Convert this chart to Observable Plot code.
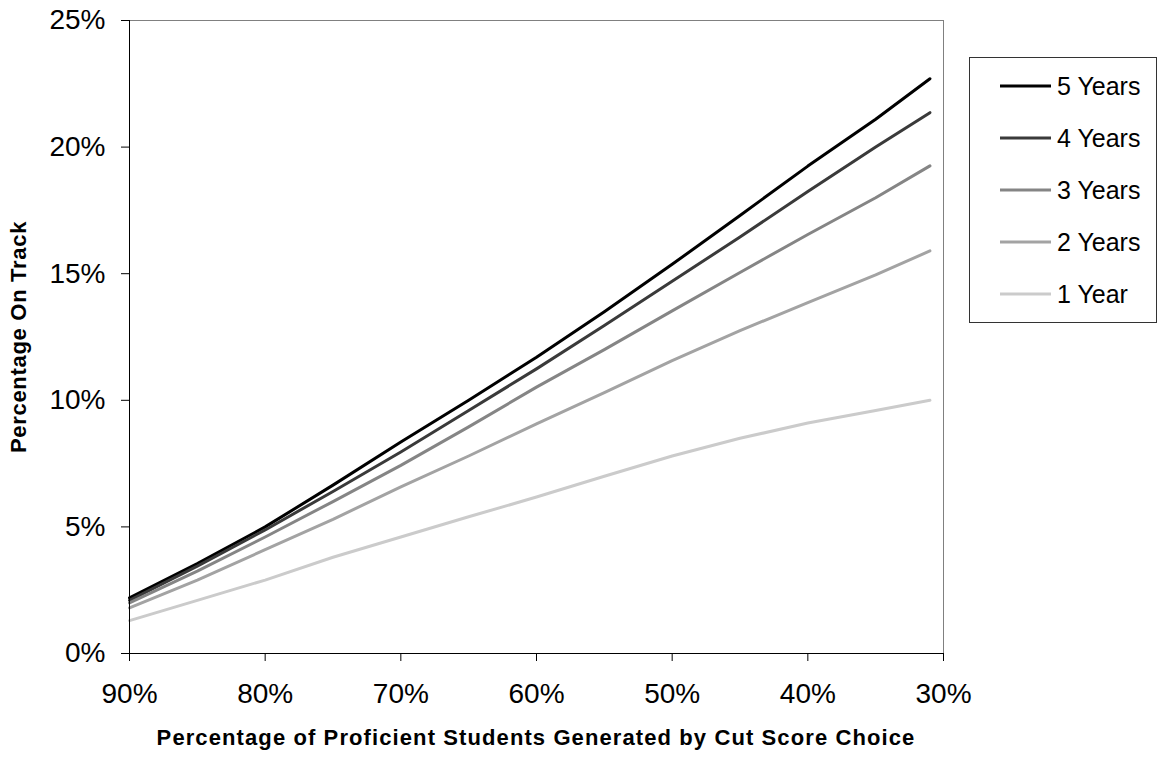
<!DOCTYPE html>
<html>
<head>
<meta charset="utf-8">
<script src="https://cdn.jsdelivr.net/npm/d3@7"></script>
<script src="https://cdn.jsdelivr.net/npm/@observablehq/plot@0.6"></script>
<style>
  body { margin: 0; background: #fff; }
  #wrap { position: relative; width: 1167px; height: 757px; font-family: "Liberation Sans", Arial, sans-serif; }
  #wrap svg { position: absolute; left: 0; top: 0; }
  .title { position: absolute; font-weight: bold; font-size: 22px; white-space: nowrap; color: #000; }
  #legend { position: absolute; left: 969px; top: 57px; width: 188px; height: 266px; border: 1px solid #333; box-sizing: border-box; background: #fff; }
</style>
</head>
<body>
<div id="wrap"></div>
<script>
// Cut score choice: percentage of proficient students (x)
const cutScores = [90, 85, 80, 75, 70, 65, 60, 55, 50, 45, 40, 35, 31];
// Percentage on track (y) per series
const years5 = [2.2, 3.55, 5.0, 6.65, 8.35, 10.0, 11.7, 13.5, 15.37, 17.3, 19.25, 21.1, 22.7];
const years4 = [2.1, 3.45, 4.88, 6.4, 7.96, 9.6, 11.24, 12.95, 14.7, 16.45, 18.25, 20.0, 21.36];
const years3 = [2.0, 3.25, 4.6, 6.0, 7.43, 8.95, 10.52, 12.0, 13.53, 15.05, 16.55, 18.0, 19.26];
const years2 = [1.8, 2.9, 4.1, 5.3, 6.58, 7.8, 9.07, 10.3, 11.57, 12.75, 13.86, 14.95, 15.9];
const years1 = [1.3, 2.1, 2.9, 3.8, 4.6, 5.4, 6.18, 7.0, 7.8, 8.5, 9.1, 9.6, 10.0];

const seriesNames = ["5 Years", "4 Years", "3 Years", "2 Years", "1 Year"];
const seriesValues = [years5, years4, years3, years2, years1];
const seriesColors = ["#000000", "#3a3a3a", "#858585", "#a3a3a3", "#cbcbcb"];

const xTicks = [90, 80, 70, 60, 50, 40, 30];
const yTicks = [0, 5, 10, 15, 20, 25];
const xTitle = "Percentage of Proficient Students Generated by Cut Score Choice";
const yTitle = "Percentage On Track";

const data = seriesNames.flatMap((name, i) =>
  cutScores.map((x, j) => ({series: name, x, y: seriesValues[i][j]}))
);

const pct = d => d + "%";

const chart = Plot.plot({
  width: 1167,
  height: 757,
  marginLeft: 129,
  marginRight: 224,
  marginTop: 20,
  marginBottom: 104,
  style: {fontFamily: "'Liberation Sans', Arial, sans-serif", background: "transparent", color: "#000"},
  x: {domain: [90, 30]},
  y: {domain: [0, 25]},
  color: {domain: seriesNames, range: seriesColors},
  marks: [
    Plot.ruleY([25], {stroke: "#808080", strokeWidth: 1}),
    Plot.ruleX([30], {stroke: "#808080", strokeWidth: 1}),
    Plot.line(data, {x: "x", y: "y", z: "series", stroke: "series", strokeWidth: 3, strokeLinejoin: "round"}),
    Plot.axisY({ticks: yTicks, tickFormat: pct, tickSize: 8, tickPadding: 16, fontSize: 28, label: null, stroke: "#000"}),
    Plot.axisX({ticks: xTicks, tickFormat: pct, tickSize: 8, tickPadding: 22, fontSize: 28, label: null, stroke: "#000"}),
    Plot.ruleX([90], {stroke: "#000", strokeWidth: 1}),
    Plot.ruleY([0], {stroke: "#000", strokeWidth: 1})
  ]
});

const wrap = document.getElementById("wrap");
wrap.appendChild(chart);

// axis titles
const xt = document.createElement("div");
xt.className = "title";
xt.textContent = xTitle;
xt.style.left = "536px";
xt.style.top = "738px";
xt.style.letterSpacing = "1.1px";
xt.style.transform = "translate(-50%, -50%)";
wrap.appendChild(xt);

const yt = document.createElement("div");
yt.className = "title";
yt.textContent = yTitle;
yt.style.left = "19px";
yt.style.top = "337px";
yt.style.letterSpacing = "0.7px";
yt.style.transform = "translate(-50%, -50%) rotate(-90deg)";
wrap.appendChild(yt);

// legend
const legend = document.createElement("div");
legend.id = "legend";
const lsvg = d3.create("svg").attr("width", 186).attr("height", 264).style("position", "absolute").style("left", "0").style("top", "0");
seriesNames.forEach((name, i) => {
  const cy = 28 + i * 52;
  lsvg.append("line").attr("x1", 30).attr("x2", 81).attr("y1", cy).attr("y2", cy)
    .attr("stroke", seriesColors[i]).attr("stroke-width", 3);
  lsvg.append("text").attr("x", 87).attr("y", cy).attr("dy", "0.35em")
    .attr("font-size", 25).attr("font-family", "'Liberation Sans', Arial, sans-serif").attr("fill", "#000").text(name);
});
legend.appendChild(lsvg.node());
wrap.appendChild(legend);
</script>
</body>
</html>
